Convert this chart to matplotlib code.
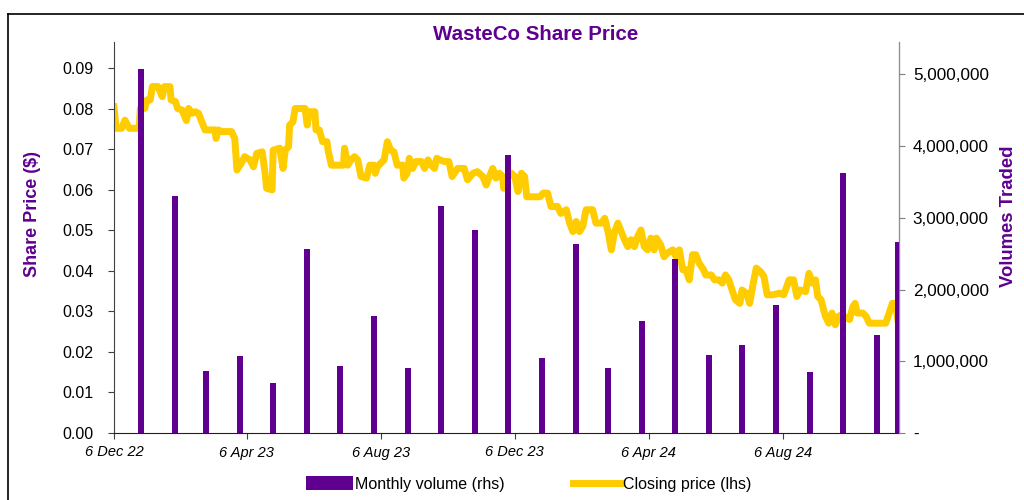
import pandas as pd
import matplotlib.pyplot as plt
import matplotlib.dates as mdates
from matplotlib.ticker import FuncFormatter, MultipleLocator
from matplotlib.lines import Line2D

plt.rcParams['font.family'] = ['Liberation Sans', 'DejaVu Sans']

PURPLE = '#5f0090'
YELLOW = '#ffcc00'

# monthly volumes (rhs)
vol_dates = ['2022-12-31', '2023-01-31', '2023-02-28', '2023-03-31', '2023-04-30', '2023-05-31',
             '2023-06-30', '2023-07-31', '2023-08-31', '2023-09-30', '2023-10-31', '2023-11-30',
             '2023-12-31', '2024-01-31', '2024-02-29', '2024-03-31', '2024-04-30', '2024-05-31',
             '2024-06-30', '2024-07-31', '2024-08-31', '2024-09-30', '2024-10-31', '2024-11-19']
volumes = [5080000, 3300000, 870000, 1080000, 700000, 2570000,
           940000, 1630000, 905000, 3160000, 2830000, 3870000,
           1040000, 2630000, 900000, 1560000, 2430000, 1090000,
           1230000, 1780000, 850000, 3620000, 1360000, 2660000]

# closing price (lhs)
price_dates = [
    '2022-12-06', '2022-12-08', '2022-12-13', '2022-12-16', '2022-12-20', '2022-12-29', '2022-12-30',
    '2023-01-03', '2023-01-05', '2023-01-08', '2023-01-10', '2023-01-15', '2023-01-19', '2023-01-21',
    '2023-01-26', '2023-01-27', '2023-01-31', '2023-02-02', '2023-02-06', '2023-02-10', '2023-02-12',
    '2023-02-15', '2023-02-18', '2023-02-21', '2023-02-24', '2023-02-27', '2023-03-08', '2023-03-09',
    '2023-03-11', '2023-03-14', '2023-03-23', '2023-03-26', '2023-03-28', '2023-04-01', '2023-04-04',
    '2023-04-09', '2023-04-12', '2023-04-15', '2023-04-20', '2023-04-23', '2023-04-24', '2023-04-29',
    '2023-04-30', '2023-05-06', '2023-05-09', '2023-05-11', '2023-05-14', '2023-05-15', '2023-05-18',
    '2023-05-20', '2023-05-29', '2023-05-31', '2023-06-02', '2023-06-07', '2023-06-08', '2023-06-11',
    '2023-06-14', '2023-06-18', '2023-06-19', '2023-06-22', '2023-07-03', '2023-07-04', '2023-07-07',
    '2023-07-10', '2023-07-13', '2023-07-16', '2023-07-19', '2023-07-24', '2023-07-27', '2023-07-31',
    '2023-08-01', '2023-08-03', '2023-08-06', '2023-08-09', '2023-08-12', '2023-08-15', '2023-08-18',
    '2023-08-21', '2023-08-26', '2023-08-27', '2023-08-30', '2023-09-01', '2023-09-04', '2023-09-07',
    '2023-09-12', '2023-09-15', '2023-09-18', '2023-09-21', '2023-09-24', '2023-09-26', '2023-09-29',
    '2023-10-03', '2023-10-07', '2023-10-10', '2023-10-15', '2023-10-21', '2023-10-24', '2023-10-29',
    '2023-11-02', '2023-11-07', '2023-11-10', '2023-11-13', '2023-11-16', '2023-11-19', '2023-11-22',
    '2023-11-25', '2023-11-26', '2023-11-29', '2023-12-03', '2023-12-06', '2023-12-09', '2023-12-12',
    '2023-12-15', '2023-12-17', '2023-12-29', '2024-01-01', '2024-01-05', '2024-01-08', '2024-01-14',
    '2024-01-17', '2024-01-22', '2024-01-25', '2024-01-28', '2024-01-31', '2024-02-03', '2024-02-06',
    '2024-02-09', '2024-02-15', '2024-02-18', '2024-02-23', '2024-02-26', '2024-02-29', '2024-03-03',
    '2024-03-06', '2024-03-09', '2024-03-12', '2024-03-15', '2024-03-18', '2024-03-21', '2024-03-24',
    '2024-03-27', '2024-03-30', '2024-04-02', '2024-04-05', '2024-04-08', '2024-04-11', '2024-04-13',
    '2024-04-17', '2024-04-20', '2024-04-23', '2024-04-28', '2024-05-01', '2024-05-04', '2024-05-07',
    '2024-05-10', '2024-05-13', '2024-05-16', '2024-05-19', '2024-05-22', '2024-05-26', '2024-05-28',
    '2024-06-02', '2024-06-05', '2024-06-09', '2024-06-12', '2024-06-15', '2024-06-18', '2024-06-21',
    '2024-06-24', '2024-06-28', '2024-06-30', '2024-07-04', '2024-07-07', '2024-07-10', '2024-07-13',
    '2024-07-17', '2024-07-20', '2024-07-23', '2024-07-28', '2024-08-03', '2024-08-07', '2024-08-12',
    '2024-08-16', '2024-08-19', '2024-08-22', '2024-08-27', '2024-08-30', '2024-09-02', '2024-09-05',
    '2024-09-07', '2024-09-10', '2024-09-14', '2024-09-17', '2024-09-20', '2024-09-23', '2024-09-26',
    '2024-09-29', '2024-10-03', '2024-10-06', '2024-10-09', '2024-10-11', '2024-10-13', '2024-10-18',
    '2024-10-21', '2024-10-24', '2024-11-08', '2024-11-11', '2024-11-14', '2024-11-17', '2024-11-19']
prices = [
    0.0805, 0.0752, 0.0752, 0.0772, 0.0752, 0.0752, 0.0801,
    0.0801, 0.0822, 0.0822, 0.0855, 0.0855, 0.0830, 0.0855,
    0.0855, 0.0822, 0.0818, 0.0801, 0.0797, 0.0771, 0.0801,
    0.0789, 0.0793, 0.0789, 0.0768, 0.0748, 0.0748, 0.0727,
    0.0748, 0.0744, 0.0744, 0.0727, 0.0649, 0.0666, 0.0682,
    0.0674, 0.0657, 0.0690, 0.0694, 0.0633, 0.0604, 0.0600,
    0.0698, 0.0703, 0.0653, 0.0698, 0.0707, 0.0760, 0.0768,
    0.0801, 0.0801, 0.0760, 0.0793, 0.0793, 0.0748, 0.0748,
    0.0719, 0.0719, 0.0698, 0.0661, 0.0661, 0.0703, 0.0661,
    0.0674, 0.0682, 0.0674, 0.0633, 0.0629, 0.0661, 0.0661,
    0.0641, 0.0657, 0.0666, 0.0674, 0.0719, 0.0698, 0.0694,
    0.0661, 0.0661, 0.0629, 0.0641, 0.0678, 0.0653, 0.0670,
    0.0670, 0.0653, 0.0674, 0.0661, 0.0653, 0.0678, 0.0674,
    0.0670, 0.0670, 0.0633, 0.0653, 0.0653, 0.0625, 0.0641,
    0.0645, 0.0633, 0.0612, 0.0633, 0.0653, 0.0629, 0.0641,
    0.0633, 0.0604, 0.0629, 0.0641, 0.0633, 0.0596, 0.0641,
    0.0633, 0.0583, 0.0583, 0.0592, 0.0592, 0.0559, 0.0559,
    0.0542, 0.0551, 0.0518, 0.0497, 0.0522, 0.0497, 0.0510,
    0.0551, 0.0551, 0.0518, 0.0518, 0.0530, 0.0497, 0.0452,
    0.0497, 0.0518, 0.0497, 0.0477, 0.0460, 0.0477, 0.0460,
    0.0485, 0.0501, 0.0460, 0.0452, 0.0481, 0.0452, 0.0481,
    0.0464, 0.0435, 0.0444, 0.0452, 0.0435, 0.0452, 0.0403,
    0.0403, 0.0378, 0.0440, 0.0440, 0.0419, 0.0403, 0.0390,
    0.0390, 0.0378, 0.0378, 0.0370, 0.0390, 0.0378, 0.0353,
    0.0329, 0.0320, 0.0353, 0.0345, 0.0320, 0.0366, 0.0407,
    0.0398, 0.0386, 0.0341, 0.0341, 0.0345, 0.0341, 0.0378,
    0.0378, 0.0337, 0.0353, 0.0349, 0.0394, 0.0370, 0.0378,
    0.0337, 0.0329, 0.0288, 0.0271, 0.0296, 0.0267, 0.0288,
    0.0292, 0.0284, 0.0280, 0.0312, 0.0320, 0.0296, 0.0296,
    0.0288, 0.0271, 0.0271, 0.0296, 0.0320, 0.0320, 0.0279]

x_ticks = ['2022-12-06', '2023-04-06', '2023-08-06', '2023-12-06', '2024-04-06', '2024-08-06']

vol_dates = pd.to_datetime(vol_dates)
price_dates = pd.to_datetime(price_dates)

fig = plt.figure(figsize=(10.24, 5), dpi=100)
ax = fig.add_axes([0.1113, 0.134, 0.7666, 0.782])
ax2 = ax.twinx()

ax2.bar(vol_dates, volumes, width=5.5, color=PURPLE, label='Monthly volume (rhs)', zorder=3)
ax.plot(price_dates, prices, color=YELLOW, lw=5, solid_joinstyle='round',
        label='Closing price (lhs)')

ax.set_xlim(pd.Timestamp('2022-12-06'), pd.Timestamp('2024-11-20'))
ax.set_ylim(0, 0.0965)
ax2.set_ylim(0, 5.45e6)

ax.yaxis.set_major_locator(MultipleLocator(0.01))
ax.yaxis.set_major_formatter(FuncFormatter(lambda v, p: f'{v:.2f}'))
ax2.yaxis.set_major_locator(MultipleLocator(1e6))
ax2.yaxis.set_major_formatter(FuncFormatter(lambda v, p: '-' if v == 0 else f'{v:,.0f}'))

ax.set_xticks(pd.to_datetime(x_ticks))
ax.xaxis.set_major_formatter(mdates.DateFormatter('%-d %b %y'))
for lbl in ax.get_xticklabels():
    lbl.set_fontstyle('italic')

ax.tick_params(axis='x', labelsize=10.5, length=4, color='#404040', pad=5)
ax.tick_params(axis='y', labelsize=11.5, length=4, color='#404040', pad=11)
ax2.tick_params(axis='y', labelsize=12.3, length=4, color='#808080', pad=6)

for a in (ax, ax2):
    a.spines['top'].set_visible(False)
ax.spines['left'].set_color('#404040')
ax.spines['bottom'].set_color('#202020')
ax2.spines['right'].set_color('#909090')
ax2.spines['left'].set_visible(False)
ax2.spines['bottom'].set_visible(False)

ax.set_ylabel('Share Price ($)', color=PURPLE, fontsize=13, fontweight='bold')
ax.yaxis.set_label_coords(-0.093, 0.56)
ax2.set_ylabel('Volumes Traded', color=PURPLE, fontsize=13.3, fontweight='bold')
ax2.yaxis.set_label_coords(1.129, 0.555)
fig.text(0.523, 0.931, 'WasteCo Share Price', color=PURPLE, fontsize=14.8,
         fontweight='bold', ha='center', va='center')

h1, l1 = ax2.get_legend_handles_labels()
h2, l2 = ax.get_legend_handles_labels()
fig.legend(h1 + h2, l1 + l2, loc='center', bbox_to_anchor=(0.516, 0.032), ncol=2,
           frameon=False, fontsize=11.5, handlelength=3.0, handleheight=1.0,
           handletextpad=0.1, columnspacing=4.3)

# outer chart frame (top and left edges)
fig.add_artist(Line2D([0.008, 1.0], [0.972, 0.972], color='black', lw=1.2))
fig.add_artist(Line2D([0.008, 0.008], [0.0, 0.972], color='black', lw=1.2))

fig.savefig('out.png', dpi=100)
